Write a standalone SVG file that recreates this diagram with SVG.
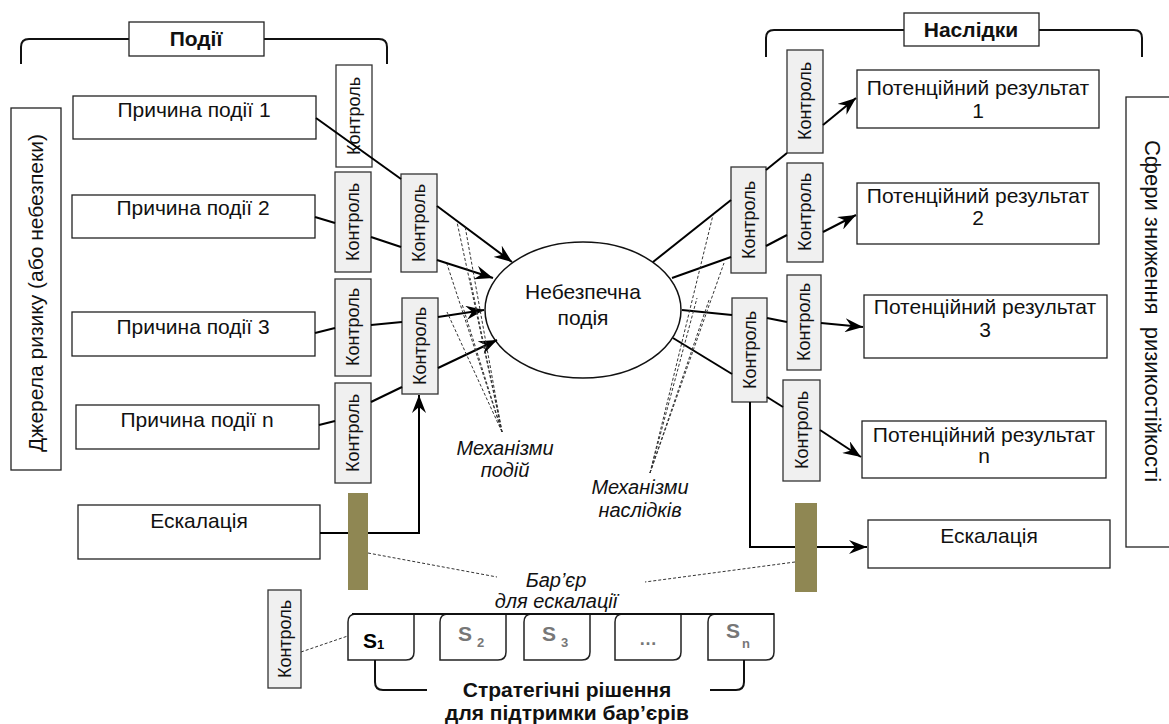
<svg xmlns="http://www.w3.org/2000/svg" width="1169" height="724" viewBox="0 0 1169 724">
<defs>
<marker id="arr" markerUnits="userSpaceOnUse" markerWidth="20" markerHeight="14" refX="18" refY="7" orient="auto">
<path d="M0,0 L18,7 L0,14 L6,7 Z" fill="#000"/>
</marker>
<style>
.box{fill:#fff;stroke:#222;stroke-width:1.3}
.ctl{fill:#f0f0f0;stroke:#333;stroke-width:1.3}
.ctlw{fill:#fff;stroke:#333;stroke-width:1.3}
.t{font-family:"Liberation Sans",Arial,sans-serif;font-size:21px;fill:#111;text-anchor:middle}
.k{font-family:"Liberation Sans",Arial,sans-serif;font-size:18px;fill:#111;text-anchor:middle}
.b{font-family:"Liberation Sans",Arial,sans-serif;font-size:21px;font-weight:bold;fill:#111;text-anchor:middle}
.i{font-family:"Liberation Sans",Arial,sans-serif;font-size:20px;font-style:italic;fill:#111;text-anchor:middle}
.c{fill:none;stroke:#000;stroke-width:2}
.ca{fill:none;stroke:#000;stroke-width:2;marker-end:url(#arr)}
.d{fill:none;stroke:#333;stroke-width:1;stroke-dasharray:3 2}
.br{fill:none;stroke:#111;stroke-width:2}
.bar{fill:#8f8753}
.s{fill:#fff;stroke:#222;stroke-width:1.5}
.sl{font-family:"Liberation Sans",Arial,sans-serif;font-weight:bold;fill:#777}
</style>
</defs>

<g id="bracket-events">
<path class="br" d="M21,64 L21,47 Q21,39 29,39 L129,39 M264,39 L379,39 Q387,39 387,47 L387,64"/>
<rect class="box" x="129" y="22" width="135" height="34"/>
<text class="b" x="196" y="46">Події</text>
</g>
<g id="bracket-consequences">
<path class="br" d="M766,57 L766,38 Q766,30 774,30 L904,30 M1039,30 L1134,30 Q1142,30 1142,38 L1142,57"/>
<rect class="box" x="904" y="13" width="135" height="33"/>
<text class="b" x="971" y="37">Наслідки</text>
</g>

<g id="sources">
<rect class="box" x="11" y="108" width="50" height="362"/>
<text class="t" transform="translate(43,293) rotate(-90)">Джерела ризику (або небезпеки)</text>
</g>
<g id="spheres">
<rect class="box" x="1126" y="97" width="70" height="450"/>
<text class="t" style="font-size:22px;white-space:pre" xml:space="preserve" transform="translate(1145,311) rotate(90)">Сфери зниження  ризикостійкості</text>
</g>

<g id="cause1"><rect class="box" x="73" y="96" width="243" height="43"/><text class="t" x="194" y="117">Причина події 1</text></g>
<g id="cause2"><rect class="box" x="72" y="195" width="243" height="43"/><text class="t" x="193" y="215">Причина події 2</text></g>
<g id="cause3"><rect class="box" x="72" y="312" width="243" height="44"/><text class="t" x="193" y="334">Причина події 3</text></g>
<g id="causen"><rect class="box" x="76" y="405" width="243" height="44"/><text class="t" x="197" y="427">Причина події n</text></g>
<g id="esc-left"><rect class="box" x="78" y="505" width="242" height="54"/><text class="t" x="199" y="528">Ескалація</text></g>

<g id="ctl-top"><rect class="ctlw" x="336" y="65" width="36" height="102"/><text class="k" transform="translate(360,116) rotate(-90)">Контроль</text></g>
<g id="ctl-l2"><rect class="ctl" x="335" y="172" width="36" height="100"/><text class="k" transform="translate(359,222) rotate(-90)">Контроль</text></g>
<g id="ctl-l3"><rect class="ctl" x="335" y="279" width="36" height="97"/><text class="k" transform="translate(359,327) rotate(-90)">Контроль</text></g>
<g id="ctl-l4"><rect class="ctl" x="335" y="383" width="36" height="100"/><text class="k" transform="translate(359,433) rotate(-90)">Контроль</text></g>
<g id="ctl-a"><rect class="ctl" x="401" y="174" width="36" height="98"/><text class="k" transform="translate(425,223) rotate(-90)">Контроль</text></g>
<g id="ctl-d"><rect class="ctl" x="402" y="298" width="36" height="96"/><text class="k" transform="translate(426,346) rotate(-90)">Контроль</text></g>

<g id="hazard">
<ellipse cx="583" cy="310" rx="98" ry="68" fill="#fff" stroke="#111" stroke-width="1.5"/>
<text class="t" x="583" y="299">Небезпечна</text>
<text class="t" x="583" y="325">подія</text>
</g>

<g id="ctl-b"><rect class="ctl" x="731" y="167" width="35" height="106"/><text class="k" transform="translate(755,220) rotate(-90)">Контроль</text></g>
<g id="ctl-c"><rect class="ctl" x="732" y="298" width="35" height="104"/><text class="k" transform="translate(756,350) rotate(-90)">Контроль</text></g>
<g id="ctl-r1"><rect class="ctl" x="787" y="50" width="36" height="103"/><text class="k" transform="translate(811,101) rotate(-90)">Контроль</text></g>
<g id="ctl-r2"><rect class="ctl" x="787" y="163" width="36" height="99"/><text class="k" transform="translate(811,212) rotate(-90)">Контроль</text></g>
<g id="ctl-r3"><rect class="ctl" x="787" y="275" width="34" height="95"/><text class="k" transform="translate(810,322) rotate(-90)">Контроль</text></g>
<g id="ctl-r4"><rect class="ctl" x="783" y="380" width="37" height="101"/><text class="k" transform="translate(808,430) rotate(-90)">Контроль</text></g>

<g id="result1"><rect class="box" x="857" y="70" width="242" height="58"/><text class="t" x="978" y="95">Потенційний результат</text><text class="t" x="978" y="118">1</text></g>
<g id="result2"><rect class="box" x="857" y="183" width="242" height="61"/><text class="t" x="978" y="203">Потенційний результат</text><text class="t" x="978" y="225">2</text></g>
<g id="result3"><rect class="box" x="864" y="295" width="243" height="63"/><text class="t" x="985" y="314">Потенційний результат</text><text class="t" x="985" y="337">3</text></g>
<g id="resultn"><rect class="box" x="862" y="421" width="244" height="57"/><text class="t" x="984" y="442">Потенційний результат</text><text class="t" x="984" y="463">n</text></g>
<g id="esc-right"><rect class="box" x="868" y="520" width="242" height="48"/><text class="t" x="989" y="543">Ескалація</text></g>

<g id="connectors">
<line class="c" x1="316" y1="118" x2="401" y2="179"/>
<line class="c" x1="315" y1="217" x2="335" y2="223"/>
<line class="c" x1="371" y1="237" x2="401" y2="247"/>
<line class="ca" x1="437" y1="206" x2="512" y2="262"/>
<line class="ca" x1="437" y1="260" x2="493" y2="278"/>
<line class="c" x1="315" y1="333" x2="335" y2="328"/>
<line class="c" x1="371" y1="325" x2="402" y2="322"/>
<line class="ca" x1="438" y1="317" x2="484" y2="310"/>
<line class="c" x1="319" y1="425" x2="335" y2="421"/>
<line class="c" x1="371" y1="402" x2="402" y2="387"/>
<line class="ca" x1="438" y1="368" x2="497" y2="340"/>
<path class="ca" d="M320,533 L419,533 L419,395"/>
<line class="c" x1="653" y1="262" x2="731" y2="200"/>
<line class="c" x1="672" y1="278" x2="731" y2="257"/>
<line class="c" x1="766" y1="170" x2="787" y2="153"/>
<line class="ca" x1="823" y1="125" x2="856" y2="98"/>
<line class="c" x1="766" y1="246" x2="787" y2="235"/>
<line class="ca" x1="823" y1="232" x2="856" y2="215"/>
<line class="c" x1="682" y1="310" x2="732" y2="315"/>
<line class="c" x1="767" y1="318" x2="787" y2="322"/>
<line class="ca" x1="821" y1="323" x2="863" y2="327"/>
<line class="c" x1="673" y1="338" x2="732" y2="374"/>
<line class="c" x1="767" y1="397" x2="783" y2="407"/>
<line class="ca" x1="820" y1="430" x2="861" y2="457"/>
<path class="ca" d="M750,402 L750,547 L867,547"/>
<path class="d" d="M502,432 L457,222 M502,432 L465,226 M502,432 L447,264 M502,432 L470,278 M502,432 L447,312 M502,432 L462,304"/>
<path class="d" d="M650,473 L713,215 M650,473 L724,263 M650,473 L697,298 M650,473 L709,300"/>
<path class="d" d="M368,553 L497,577 M795,562 L645,582 M301,652 L412,614"/>
</g>

<g id="barrier-left"><rect class="bar" x="348" y="493" width="20" height="97"/></g>
<g id="barrier-right"><rect class="bar" x="795" y="503" width="22" height="89"/></g>

<g id="labels">
<text class="i" x="505" y="455">Механізми</text>
<text class="i" x="505" y="477">подій</text>
<text class="i" x="640" y="494">Механізми</text>
<text class="i" x="640" y="517">наслідків</text>
<text class="i" x="556" y="587">Бар’єр</text>
<text class="i" x="556" y="608">для ескалації</text>
</g>

<g id="ctl-bottom"><rect class="ctl" x="268" y="590" width="33" height="98"/><text class="k" transform="translate(291,639) rotate(-90)">Контроль</text></g>

<g id="strategies">
<path class="s" d="M348,622 Q348,614 356,614 L414,614 L414,652 Q414,660 406,660 L348,660 Z"/>
<path class="s" d="M440,622 Q440,614 448,614 L506,614 L506,652 Q506,660 498,660 L440,660 Z"/>
<path class="s" d="M524,622 Q524,614 532,614 L590,614 L590,652 Q590,660 582,660 L524,660 Z"/>
<path class="s" d="M615,622 Q615,614 623,614 L681,614 L681,652 Q681,660 673,660 L615,660 Z"/>
<path class="s" d="M708,622 Q708,614 716,614 L774,614 L774,652 Q774,660 766,660 L708,660 Z"/>
<line x1="352" y1="614" x2="774" y2="614" stroke="#111" stroke-width="2"/>
<text class="sl" x="363" y="648" font-size="21" style="fill:#000">S<tspan font-size="13" dy="1">1</tspan></text>
<text class="sl" x="458" y="641" font-size="21">S<tspan font-size="13" dx="5" dy="6">2</tspan></text>
<text class="sl" x="542" y="641" font-size="21">S<tspan font-size="13" dx="5" dy="6">3</tspan></text>
<text class="sl" x="648" y="645" font-size="18" text-anchor="middle">…</text>
<text class="sl" x="726" y="638" font-size="21">S<tspan font-size="13" dx="2" dy="10">n</tspan></text>
<path class="br" d="M375,660 L375,682 Q375,690 383,690 L427,690 M710,690 L736,690 Q744,690 744,682 L744,660"/>
<text class="b" x="567" y="697">Стратегічні рішення</text>
<text class="b" x="567" y="720">для підтримки бар’єрів</text>
</g>
</svg>
